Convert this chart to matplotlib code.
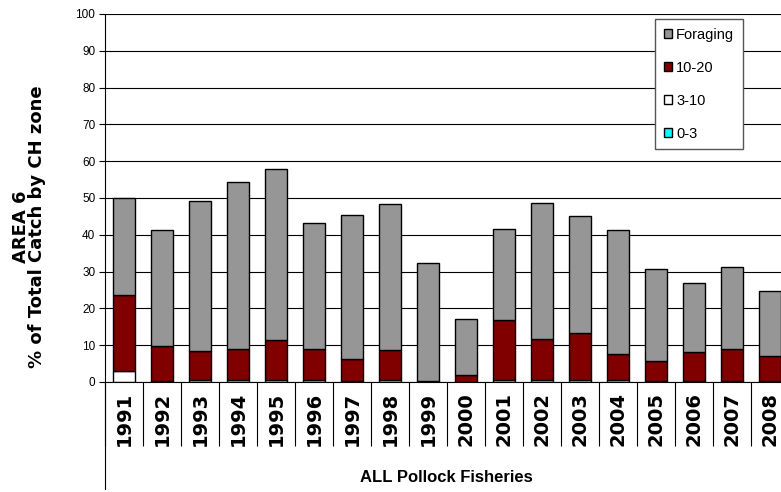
import numpy as np
import matplotlib
matplotlib.use("Agg")
import matplotlib.pyplot as plt
from matplotlib.patches import Patch
from matplotlib.transforms import Bbox, TransformedBbox, offset_copy

plt.rcParams['font.family'] = ['Liberation Sans', 'DejaVu Sans']

years = ['1991', '1992', '1993', '1994', '1995', '1996', '1997', '1998', '1999',
         '2000', '2001', '2002', '2003', '2004', '2005', '2006', '2007', '2008']
zone_0_3 = [0, 0, 0, 0, 0, 0, 0, 0, 0, 0, 0, 0, 0, 0, 0, 0, 0, 0]
zone_3_10 = [3.0, 0.2, 0.6, 0.6, 0.6, 0.6, 0.2, 0.6, 0.0,
             0.1, 0.6, 0.6, 0.6, 0.6, 0.2, 0.2, 0.2, 0.2]
zone_10_20 = [20.7, 9.7, 7.9, 8.4, 10.7, 8.4, 6.0, 8.1, 0.3,
              1.9, 16.2, 11.1, 12.7, 7.1, 5.6, 8.0, 8.8, 6.9]
foraging = [26.4, 31.4, 40.7, 45.3, 46.7, 34.2, 39.3, 39.6, 32.1,
            15.0, 24.9, 37.0, 31.7, 33.6, 24.8, 18.6, 22.3, 17.7]

series = [('0-3', zone_0_3, '#00FFFF'),
          ('3-10', zone_3_10, '#FFFFFF'),
          ('10-20', zone_10_20, '#800000'),
          ('Foraging', foraging, '#969696')]

W, H = 781, 492
fig = plt.figure(figsize=(W / 100, H / 100), dpi=100)
# plot area runs off the right edge like the original screenshot
ax = fig.add_axes([105 / W, (H - 382) / H, 684 / W, 368 / H])

x = np.arange(len(years))
bottom = np.zeros(len(years))
for name, vals, col in series:
    ax.bar(x, vals, 0.6, bottom=bottom, color=col, edgecolor='black',
           linewidth=1, zorder=2)
    bottom += np.array(vals)

ax.set_xlim(-0.5, len(years) - 0.5)
ax.set_ylim(0, 100)
ax.set_yticks(np.arange(0, 101, 10))
ax.yaxis.grid(True, color='black', linewidth=0.8)
ax.set_axisbelow(True)
ax.tick_params(axis='y', direction='out', length=4, width=0.8, pad=3,
               labelsize=8.5)
for s in ['top', 'right']:
    ax.spines[s].set_visible(False)
ax.spines['left'].set_linewidth(0.8)
ax.spines['bottom'].set_linewidth(0.8)

# category separator lines below the axis
ax.set_xticks(np.arange(-0.5, len(years), 1))
ax.set_xticklabels([])
ax.tick_params(axis='x', direction='out', length=46, width=0.8)
ax.axvline(-0.5, ymin=-0.29, ymax=0, color='black', linewidth=0.8,
           clip_on=False)

# year labels, clipped at the bottom of the separator boxes
clip = TransformedBbox(Bbox.from_extents(0, (H - 447) / H, 1, 1),
                       fig.transFigure)
tr = offset_copy(ax.get_xaxis_transform(), fig=fig, y=-10, units='dots')
for i, yr in enumerate(years):
    t = fig.text(i, 0, yr, transform=tr, rotation=90, ha='center', va='top',
                 fontsize=14, fontweight='bold', family='DejaVu Sans')
    t.set_clip_box(clip)
    t.set_clip_on(True)

fig.text(446 / W, (H - 477) / H, 'ALL Pollock Fisheries', ha='center',
         va='center', fontsize=12, fontweight='bold')

fig.text(29 / W, (H - 227) / H, 'AREA 6\n% of Total Catch by CH zone',
         rotation=90, ha='center', va='center', ma='center', fontsize=13,
         fontweight='bold', linespacing=0.9, family='DejaVu Sans')

handles = [Patch(facecolor=col, edgecolor='black', linewidth=1, label=name)
           for name, vals, col in series[::-1]]
leg = ax.legend(handles=handles, loc='upper left',
                bbox_to_anchor=(550 / 684, (382 - 19) / 368),
                borderaxespad=0, fontsize=10.5, frameon=True, fancybox=False,
                handlelength=0.55, handleheight=0.55, handletextpad=0.3,
                labelspacing=1.3, borderpad=0.6)
leg.get_frame().set_edgecolor('#555555')
leg.get_frame().set_linewidth(1)
leg.get_frame().set_alpha(1)

fig.savefig('out.png', dpi=100)
